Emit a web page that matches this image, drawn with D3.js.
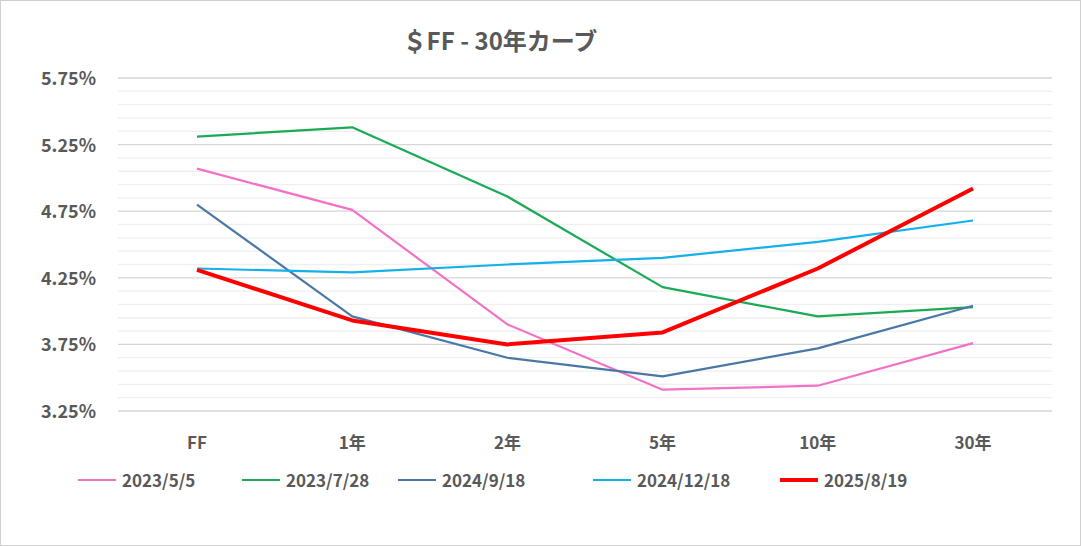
<!DOCTYPE html>
<html><head><meta charset="utf-8">
<script src="https://cdn.jsdelivr.net/npm/d3@7"></script>
<style>body{margin:0;background:#fff;font-family:"Noto Sans CJK JP","Noto Sans",sans-serif;} text{font-weight:bold;}</style>
</head><body><svg id="c" width="1081" height="546"></svg>
<script>
const categories = ['FF', '1年', '2年', '5年', '10年', '30年'];
const seriesNames = ['2023/5/5', '2023/7/28', '2024/9/18', '2024/12/18', '2025/8/19'];
const seriesColors = ['#f371c6', '#1aaa55', '#4a78a6', '#14b0e8', '#ff0000'];
const seriesWidths = [2.2, 2.2, 2.2, 2.2, 4];
const v20230505 = [5.07, 4.76, 3.90, 3.41, 3.44, 3.76];
const v20230728 = [5.31, 5.38, 4.86, 4.18, 3.96, 4.03];
const v20240918 = [4.80, 3.96, 3.65, 3.51, 3.72, 4.04];
const v20241218 = [4.32, 4.29, 4.35, 4.40, 4.52, 4.68];
const v20250819 = [4.31, 3.93, 3.75, 3.84, 4.32, 4.92];
const seriesValues = [v20230505, v20230728, v20240918, v20241218, v20250819];
const yTicks = [3.25, 3.75, 4.25, 4.75, 5.25, 5.75];

const svg = d3.select('#c');
svg.append('rect').attr('x', 0.5).attr('y', 0.5).attr('width', 1080).attr('height', 545)
  .attr('fill', '#fff').attr('stroke', '#d0d0d0');

const x = d3.scalePoint().domain(categories).range([197, 973]);
const y = d3.scaleLinear().domain([3.25, 5.75]).range([411, 78]);

const minor = d3.range(0, 26).map(i => 3.25 + i * 0.1);
svg.append('g').selectAll('line').data(minor).join('line')
  .attr('x1', 118).attr('x2', 1052)
  .attr('y1', d => y(d)).attr('y2', d => y(d))
  .attr('stroke', d => yTicks.some(t => Math.abs(t - d) < 1e-6) ? '#d6d6d6' : '#efefef')
  .attr('stroke-width', 1.3);

svg.append('g').selectAll('text').data(yTicks).join('text')
  .attr('x', 96).attr('y', d => y(d) + 7).attr('text-anchor', 'end')
  .attr('font-size', 18).attr('fill', '#595959').text(d => d.toFixed(2) + '%');

svg.append('g').selectAll('text').data(categories).join('text')
  .attr('x', d => x(d)).attr('y', 449).attr('text-anchor', 'middle')
  .attr('font-size', 17).attr('fill', '#595959').text(d => d);

const line = d3.line().x((d, i) => x(categories[i])).y(d => y(d));
seriesValues.forEach((vals, i) => {
  svg.append('path').datum(vals).attr('d', line).attr('fill', 'none')
    .attr('stroke', seriesColors[i]).attr('stroke-width', seriesWidths[i])
    .attr('stroke-linejoin', 'round');
});

svg.append('text').attr('x', 500).attr('y', 50).attr('text-anchor', 'middle')
  .attr('font-size', 24).attr('fill', '#595959').text('＄FF - 30年カーブ');

const legX = [78, 242, 398, 593, 780];
const leg = svg.append('g');
seriesNames.forEach((n, i) => {
  leg.append('line').attr('x1', legX[i]).attr('x2', legX[i] + 38).attr('y1', 480).attr('y2', 480)
    .attr('stroke', seriesColors[i]).attr('stroke-width', seriesWidths[i]);
  leg.append('text').attr('x', legX[i] + 44).attr('y', 487).attr('font-size', 17)
    .attr('fill', '#595959').text(n);
});
</script></body></html>
